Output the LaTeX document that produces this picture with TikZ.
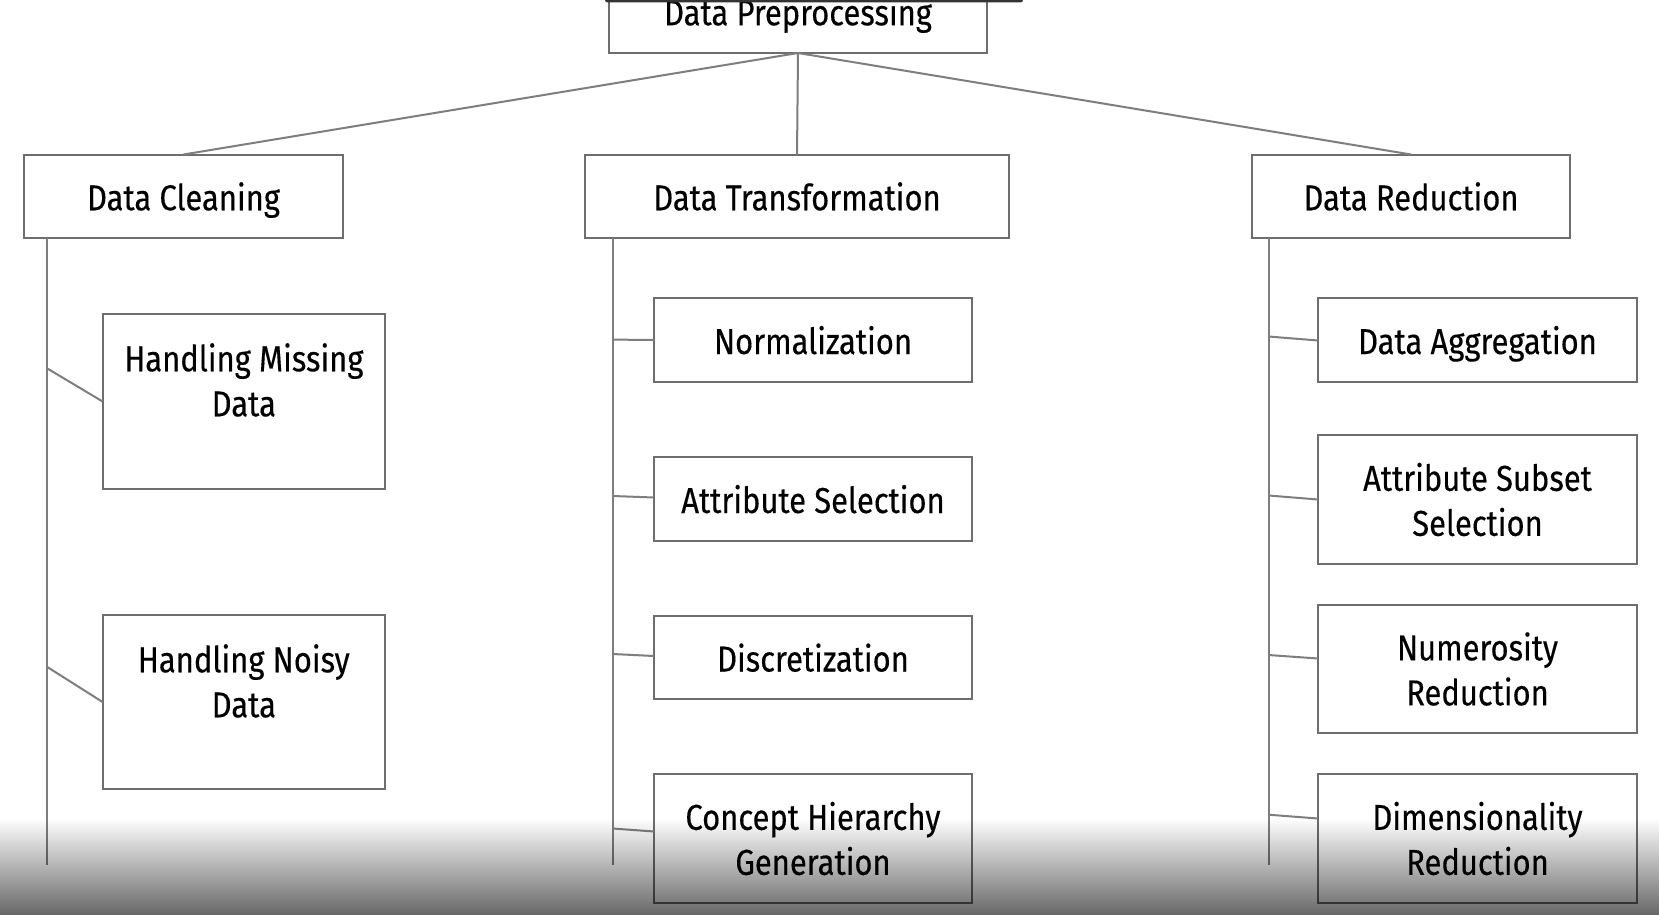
\documentclass[tikz,border=0pt]{standalone}
\usepackage{fontspec}
\setmainfont[FakeStretch=0.86, FakeBold=0.3]{Fira Sans}
\usetikzlibrary{fadings}
\definecolor{boxgray}{HTML}{6E6E6E}
\definecolor{linegray}{HTML}{7E7E7E}
\begin{document}
\begin{tikzpicture}[x=1pt,y=-1pt,
  box/.style={draw=boxgray, line width=2pt, fill=white, inner sep=0pt, outer sep=0pt,
    anchor=north west, font=\fontsize{36}{45}\selectfont, align=center},
  one/.style={text height=28pt, text depth=0pt},
  lbl/.style={inner sep=0pt, anchor=north, font=\fontsize{36}{45}\selectfont, align=center},
  conn/.style={draw=linegray, line width=2pt},
  ]
\useasboundingbox (0,0) rectangle (1659,915);
\fill[white] (0,0) rectangle (1659,915);

% top level
\node[box, minimum width=378pt, minimum height=83.5pt, one] (dp) at (609,-30.5) {Data Preprocessing};

% level 1
\node[box, minimum width=319pt, minimum height=83.5pt, one] (dc) at (24,154.5) {Data Cleaning};
\node[box, minimum width=424pt, minimum height=83.5pt, one] (dt) at (585,154.5) {Data Transformation};
\node[box, minimum width=318pt, minimum height=83.5pt, one] (dr) at (1252,154.5) {Data Reduction};

% cleaning children
\node[box, minimum width=282.5pt, minimum height=175pt] (hm) at (102.6,314) {};
\node[lbl, yshift=-29pt] (hmt) at (hm.north) {Handling Missing\\Data};
\node[box, minimum width=282.5pt, minimum height=174pt] (hn) at (102.6,615) {};
\node[lbl, yshift=-29pt] (hnt) at (hn.north) {Handling Noisy\\Data};

% transformation children
\node[box, minimum width=318pt, minimum height=84pt, one] (nm) at (654,298) {Normalization};
\node[box, minimum width=318pt, minimum height=84pt, one] (as) at (654,457) {Attribute Selection};
\node[box, minimum width=318pt, minimum height=83pt, one] (ds) at (654,616) {Discretization};
\node[box, minimum width=318pt, minimum height=129pt] (ch) at (654,774) {Concept Hierarchy\\Generation};

% reduction children
\node[box, minimum width=319pt, minimum height=84pt, one] (da) at (1318,298) {Data Aggregation};
\node[box, minimum width=319pt, minimum height=129pt] (ass) at (1318,435) {Attribute Subset\\Selection};
\node[box, minimum width=319pt, minimum height=128pt] (nr) at (1318,605) {Numerosity\\Reduction};
\node[box, minimum width=319pt, minimum height=129pt] (drd) at (1318,774) {Dimensionality\\Reduction};

% top connectors
\draw[conn] (dp.south) -- (dc.north);
\draw[conn] (dp.south) -- (dt.north);
\draw[conn] (dp.south) -- (dr.north);

% vertical spines
\coordinate (dcend) at (46.5,865);
\coordinate (dtend) at (612.6,865);
\coordinate (drend) at (1268.5,865);
\draw[conn] (dcend |- dc.south) -- (dcend);
\draw[conn] (dtend |- dt.south) -- (dtend);
\draw[conn] (drend |- dr.south) -- (drend);

% branch points
\coordinate (c1) at (46.5,368);
\coordinate (c2) at (46.5,666.5);
\coordinate (t1) at (612.6,339.6);
\coordinate (t2) at (612.6,496);
\coordinate (t3) at (612.6,654);
\coordinate (t4) at (612.6,828.5);
\coordinate (r1) at (1268.5,336.5);
\coordinate (r2) at (1268.5,495.5);
\coordinate (r3) at (1268.5,655);
\coordinate (r4) at (1268.5,814.7);

\draw[conn] (c1) -- (hm.west);
\draw[conn] (c2) -- (hn.west);
\draw[conn] (t1) -- (nm.west);
\draw[conn] (t2) -- ([yshift=1.5pt]as.west);
\draw[conn] (t3) -- ([yshift=1.5pt]ds.west);
\draw[conn] (t4) -- ([yshift=7pt]ch.west);
\draw[conn] (r1) -- ([yshift=-0.5pt]da.west);
\draw[conn] (r2) -- (ass.west);
\draw[conn] (r3) -- ([yshift=10.5pt]nr.west);
\draw[conn] (r4) -- ([yshift=20pt]drd.west);

% top dark bar (screen overlay)
\fill[black!80, rounded corners=2.5pt] (605,-6) rectangle (1023,2.5);

% bottom darkening (screen overlay)
\fill[black, fill opacity=0.64, path fading=north] (-10,818) rectangle (1670,922);
\end{tikzpicture}
\end{document}
